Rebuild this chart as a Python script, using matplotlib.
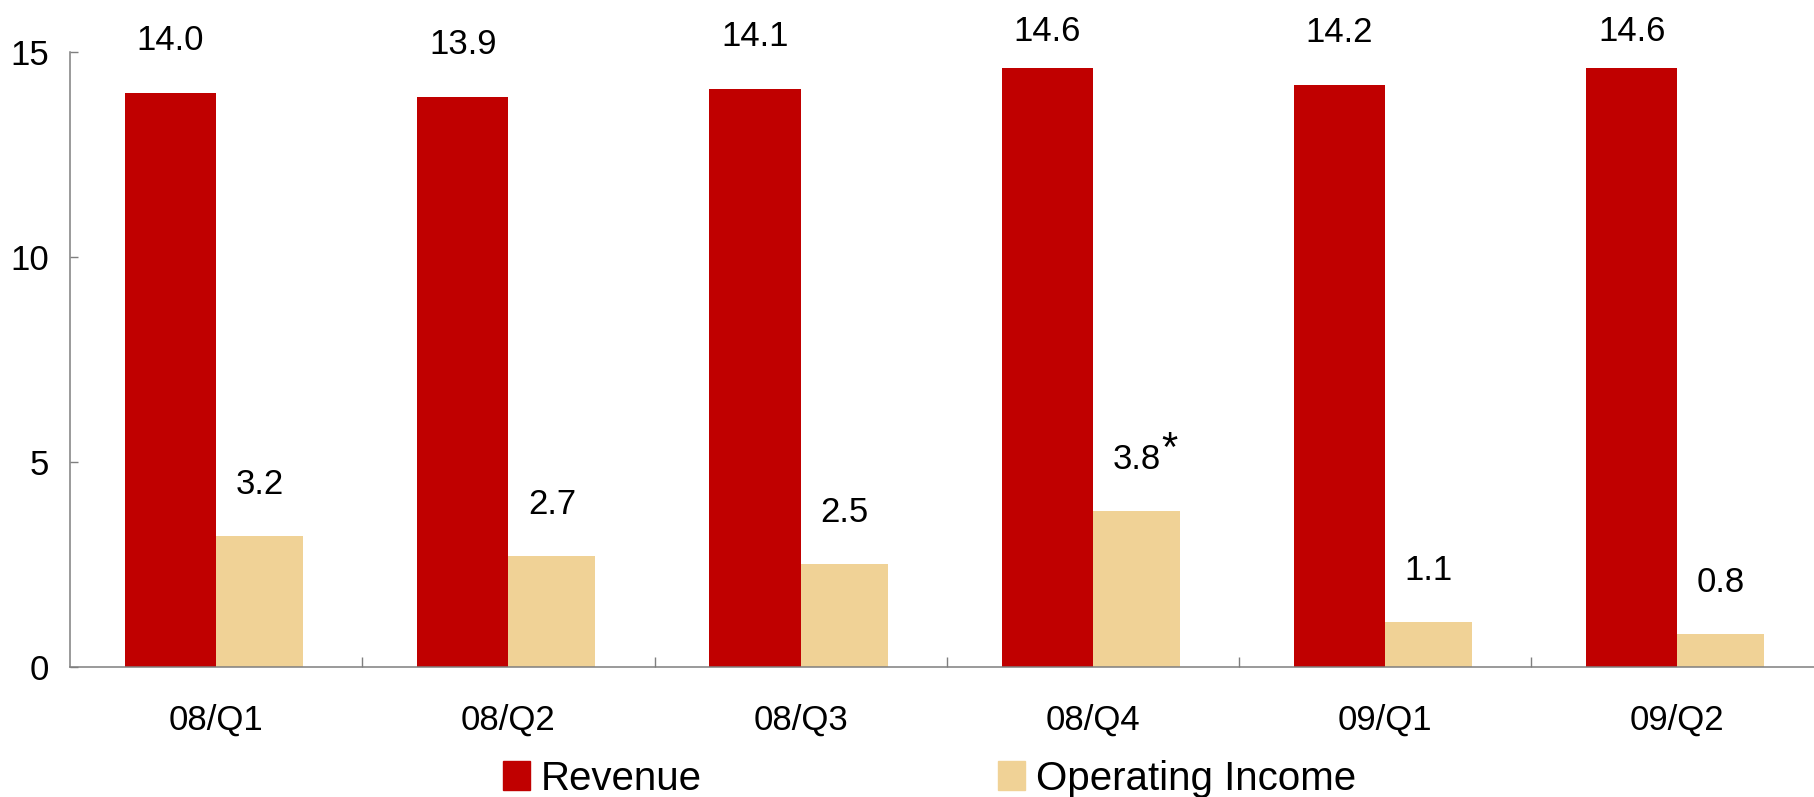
import numpy as np
import matplotlib
matplotlib.use('Agg')
import matplotlib.pyplot as plt
from matplotlib.patches import Patch

plt.rcParams['font.family'] = ['Liberation Sans', 'DejaVu Sans']

# data
quarters = ['08/Q1', '08/Q2', '08/Q3', '08/Q4', '09/Q1', '09/Q2']
revenue = [14.0, 13.9, 14.1, 14.6, 14.2, 14.6]
operating_income = [3.2, 2.7, 2.5, 3.8, 1.1, 0.8]
starred = [False, False, False, True, False, False]

red = '#C00000'
beige = '#F0D296'
axis_gray = '#7f7f7f'

fig = plt.figure(figsize=(18.14, 7.97), dpi=100)
ax = fig.add_axes([70 / 1814, 130.3 / 797, 1753.5 / 1814, 615 / 797])

x = np.arange(len(quarters))
w_rev = 0.312
w_op = 0.298
ax.bar(x - w_rev, revenue, width=w_rev, align='edge', color=red, label='Revenue')
ax.bar(x, operating_income, width=w_op, align='edge', color=beige, label='Operating Income')

# value labels above the bars (top row kept inside the figure)
for i in range(len(quarters)):
    ry = min(revenue[i] + 1.27, 15.5)
    ax.text(x[i] - w_rev / 2, ry, f'{revenue[i]:.1f}', ha='center', va='center',
            fontsize=25, clip_on=False)
    oy = operating_income[i] + 1.25
    ax.text(x[i] + w_op / 2, oy, f'{operating_income[i]:.1f}', ha='center', va='center',
            fontsize=25)
    if starred[i]:
        ax.annotate('*', (x[i] + w_op / 2, oy), xytext=(24, -1), textcoords='offset points',
                    ha='center', va='baseline', fontsize=30)

ax.set_xlim(-0.5, len(quarters) - 0.5)
ax.set_ylim(0, 15)
ax.set_yticks([0, 5, 10, 15])
ax.set_xticks(x)
ax.set_xticklabels(quarters)
ax.set_xticks(np.arange(0.5, len(quarters) - 0.5, 1), minor=True)

for s in ['top', 'right']:
    ax.spines[s].set_visible(False)
for s in ['left', 'bottom']:
    ax.spines[s].set_color(axis_gray)
    ax.spines[s].set_linewidth(1.1)

ax.tick_params(axis='y', direction='in', length=6, width=1, color=axis_gray,
               labelsize=25, pad=15)
ax.tick_params(axis='x', which='major', length=0, labelsize=25, pad=27)
ax.tick_params(axis='x', which='minor', direction='in', length=7, width=1, color=axis_gray)

handles = [Patch(color=red, label='Revenue'), Patch(color=beige, label='Operating Income')]
fig.legend(handles=handles, loc='center', bbox_to_anchor=(0.5124, 0.0232), ncol=2,
           frameon=False, fontsize=29, handlelength=0.67, handleheight=0.72,
           handletextpad=0.27, columnspacing=7.35, borderpad=0)

fig.savefig('out.png', dpi=100)
